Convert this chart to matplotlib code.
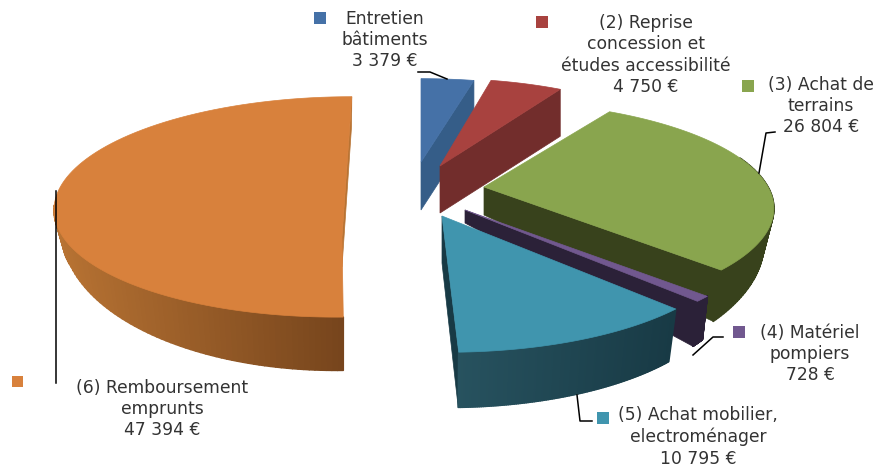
import numpy as np
import matplotlib
matplotlib.use('Agg')
import matplotlib.pyplot as plt
from matplotlib.collections import PolyCollection
from matplotlib.colors import to_rgb

# data
labels = ["Entretien\nbâtiments\n3 379 €",
          "(2) Reprise\nconcession et\nétudes accessibilité\n4 750 €",
          "(3) Achat de\nterrains\n26 804 €",
          "(4) Matériel\npompiers\n728 €",
          "(5) Achat mobilier,\nelectroménager\n10 795 €",
          "(6) Remboursement\nemprunts\n47 394 €"]
values = [3379, 4750, 26804, 728, 10795, 47394]
tops = ['#4571a7', '#a8423f', '#89a54e', '#71588f', '#4095ae', '#d8813c']
# wall colour at the left and at the right of each slice, and on the cut edge
walls_left = ['#355d88', '#722d2c', '#38421c', '#2b2138', '#27525f', '#b87333']
walls_right = ['#355d88', '#722d2c', '#38421c', '#2b2138', '#183a45', '#75441c']
walls_cut = ['#355d88', '#722d2c', '#38421c', '#2b2138', '#183a45', '#b87333']

START_ANGLE = 0.0

# apex x, apex y, a, b, k, shear, depth at apex, x scale of lower rim, y scale of lower rim
geometry = [(421, 162, 282, 100, -0.2, 0.0, 48, 1.0, 1.0),
            (440, 166, 272, 105, -0.2, 0.0, 47, 1.0, 1.0),
            (484, 187, 284, 103, -0.2, 0.0, 28, 0.966, 1.28),
            (465, 210, 290, 107, -0.2, 0.0, 13, 0.98, 1.35),
            (442, 216, 287, 109, -0.2, -0.04, 47, 0.97, 1.06),
            (342, 237, 279, 102, 0.273, 0.07, 30, 0.97, 1.29)]

# label anchor (centre x, centre y of the block), legend square (x, y, size)
label_pos = [(385, 40), (646, 55), (821, 106), (810, 354), (698, 437), (162, 409)]
key_pos = [(314, 12, 12), (536, 16, 12), (742, 80, 12), (733, 326, 12), (597, 412, 12), (12, 376, 11)]
leaders = [[(418, 72), (430, 72), (447, 79)],
           [(775, 132), (766, 133), (759, 173)],
           [(723, 337), (713, 337), (693, 355)],
           [(577, 395), (580, 421), (592, 421)],
           [(56, 191), (56, 383)]]


def top_point(th, g):
    ax, ay, a, b, k, shear, d0, sx, sy = g
    X = np.sin(th)
    Y = np.cos(th)
    w = 1 - k * Y
    dy = b * Y / w
    dx = a * X / w + shear * dy
    return dx, dy


def upper(th, g):
    dx, dy = top_point(th, g)
    return g[0] + dx, g[1] - dy


def lower(th, g):
    dx, dy = top_point(th, g)
    dy2 = np.where(dy > 0, dy, g[8] * dy)
    return g[0] + g[7] * dx, g[1] + g[6] - dy2


def mix(c1, c2, t):
    c1 = np.array(to_rgb(c1))
    c2 = np.array(to_rgb(c2))
    return tuple(c1 + (c2 - c1) * t)


fig = plt.figure(figsize=(8.92, 4.66), dpi=100)
ax = fig.add_axes([0, 0, 1, 1])
ax.set_xlim(0, 892)
ax.set_ylim(466, 0)
ax.axis('off')

angles = START_ANGLE + 360 * np.cumsum([0] + values) / np.sum(values)
order = [5, 0, 1, 2, 3, 4]

for i in order:
    g = geometry[i]
    th = np.radians(np.linspace(angles[i], angles[i + 1], 120))
    ux, uy = upper(th, g)
    lx, ly = lower(th, g)
    apex_low = (g[0], g[1] + g[6])

    # side wall along the cut edge that faces the viewer
    ax.fill([g[0], ux[-1], lx[-1], apex_low[0]], [g[1], uy[-1], ly[-1], apex_low[1]],
            color=walls_cut[i], lw=0.5, zorder=i * 3 + 1)

    # outer wall, drawn as strips so that it can shade from left to right
    quads = []
    cols = []
    span = max(lx.max() - lx.min(), 1)
    for n in range(len(th) - 1):
        # the back of the rim is hidden
        if g[1] - uy[n] > 30:
            continue
        quads.append([(ux[n], uy[n]), (ux[n + 1], uy[n + 1]), (lx[n + 1], ly[n + 1]), (lx[n], ly[n])])
        cols.append(mix(walls_left[i], walls_right[i], (lx[n] - lx.min()) / span))
    ax.add_collection(PolyCollection(quads, facecolors=cols, edgecolors=cols, linewidths=1.2, zorder=i * 3 + 2))

    # top face
    ax.fill(np.r_[g[0], ux], np.r_[g[1], uy], color=tops[i], lw=0.5, zorder=i * 3 + 3)

for pts in leaders:
    xs, ys = zip(*pts)
    ax.plot(xs, ys, color='black', lw=1.1, zorder=30)

for i in range(len(labels)):
    ax.text(label_pos[i][0], label_pos[i][1], labels[i], ha='center', va='center',
            fontsize=12.3, color='#333333', linespacing=1.24, family='DejaVu Sans', zorder=31)
    kx, ky, ks = key_pos[i]
    ax.add_patch(plt.Rectangle((kx, ky), ks, ks, color=tops[i], lw=0, zorder=31))

fig.savefig('out.png', dpi=100)
